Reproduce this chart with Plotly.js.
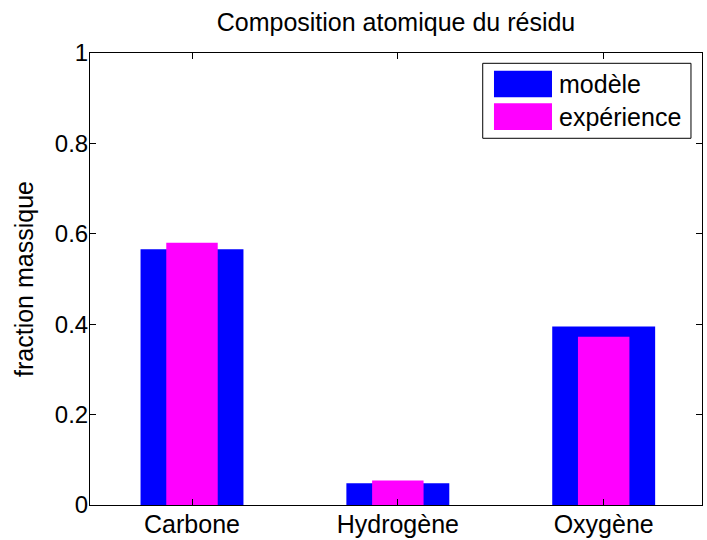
<!DOCTYPE html>
<html>
<head>
<meta charset="utf-8">
<script src="https://cdn.plot.ly/plotly-3.0.1.min.js"></script>
<style>html,body{margin:0;padding:0;background:#fff;}#chart{width:707px;height:540px;}</style>
</head>
<body>
<div id="chart"></div>
<script>
const categories = ["Carbone", "Hydrogène", "Oxygène"];
const positions = [1, 2, 3];
const modele = [0.566, 0.048, 0.395];
const experience = [0.580, 0.054, 0.372];
const yTicks = [0, 0.2, 0.4, 0.6, 0.8, 1];
const yTickText = ["0", "0.2", "0.4", "0.6", "0.8", "1"];
const seriesNames = ["modèle", "expérience"];
const seriesColors = ["#0000FF", "#FF00FF"];

const FONT = "Liberation Sans, Arial, sans-serif";

const traces = [
  {type: "bar", x: positions, y: modele, width: 0.5, name: seriesNames[0],
   marker: {color: seriesColors[0], line: {width: 0}}, showlegend: false},
  {type: "bar", x: positions, y: experience, width: 0.25, name: seriesNames[1],
   marker: {color: seriesColors[1], line: {width: 0}}, showlegend: false}
];

// Legend drawn in paper coordinates (MATLAB-like large swatches)
const lg = {x0: 0.6417, x1: 0.982, y0: 0.8113, y1: 0.9772,
            sx0: 0.6601, sx1: 0.7549, tx: 0.763,
            rows: [[0.9020, 0.9608], [0.8296, 0.8887]]};
const shapes = [
  {type: "rect", xref: "paper", yref: "paper", x0: lg.x0, x1: lg.x1, y0: lg.y0, y1: lg.y1,
   line: {color: "#000", width: 1}, fillcolor: "#fff", layer: "above"}
];
const annotations = [];
seriesNames.forEach((n, i) => {
  const r = lg.rows[i];
  shapes.push({type: "rect", xref: "paper", yref: "paper", x0: lg.sx0, x1: lg.sx1, y0: r[0], y1: r[1],
    line: {width: 0}, fillcolor: seriesColors[i], layer: "above"});
  annotations.push({xref: "paper", yref: "paper", x: lg.tx, y: (r[0] + r[1]) / 2,
    xanchor: "left", yanchor: "middle", showarrow: false, text: n,
    font: {family: FONT, size: 25, color: "#000"}});
});

const layout = {
  width: 707, height: 540,
  margin: {l: 90, r: 5, t: 53, b: 35, pad: 0},
  paper_bgcolor: "#fff", plot_bgcolor: "#fff",
  font: {family: FONT, color: "#000", size: 25},
  barmode: "overlay",
  showlegend: false,
  title: {text: "Composition atomique du résidu", x: 0.5, xref: "paper", xanchor: "center",
          y: 1 - 22 / 540, yref: "container", yanchor: "middle",
          font: {family: FONT, size: 25, color: "#000"}},
  xaxis: {range: [0.5045, 3.4776], tickvals: positions, ticktext: categories,
          showline: true, linecolor: "#000", linewidth: 1, mirror: "ticks",
          ticks: "inside", ticklen: 6, tickcolor: "#000", showgrid: false, zeroline: false,
          ticklabelstandoff: -3,
          tickfont: {family: FONT, size: 25, color: "#000"}, fixedrange: true},
  yaxis: {range: [0, 1], tickvals: yTicks, ticktext: yTickText,
          showline: true, linecolor: "#000", linewidth: 1, mirror: "ticks",
          ticks: "inside", ticklen: 6, tickcolor: "#000", showgrid: false, zeroline: false,
          ticklabelstandoff: -4,
          tickfont: {family: FONT, size: 24, color: "#000"},
          title: {text: "fraction massique", font: {family: FONT, size: 25, color: "#000"}, standoff: 14},
          fixedrange: true},
  shapes: shapes,
  annotations: annotations
};

Plotly.newPlot("chart", traces, layout, {staticPlot: true, displayModeBar: false});
</script>
</body>
</html>
